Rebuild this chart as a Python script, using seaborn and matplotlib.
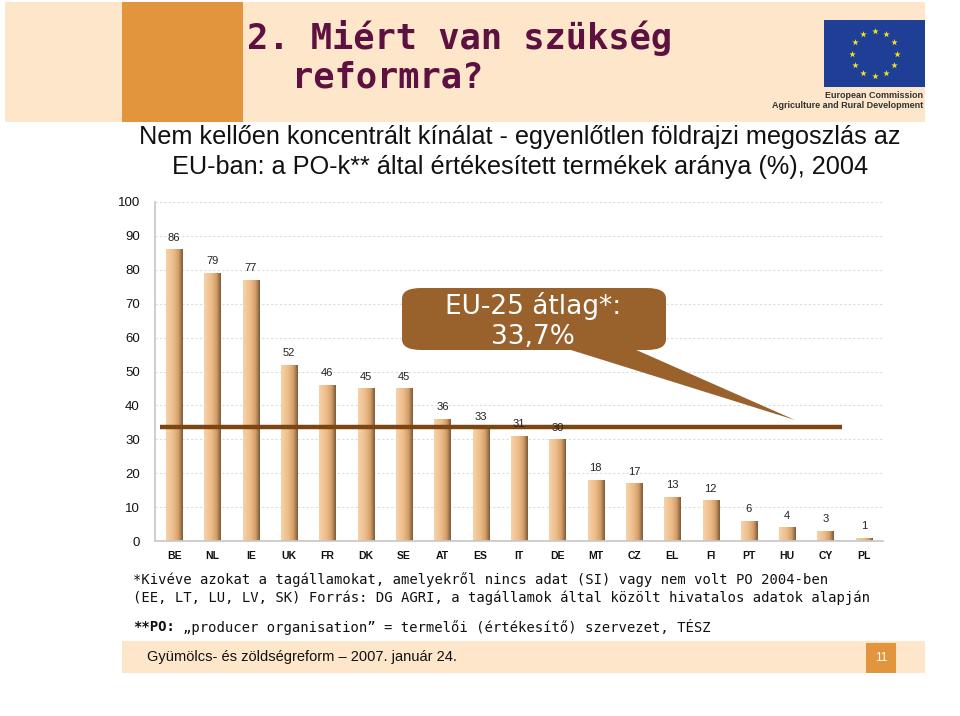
import numpy as np
import pandas as pd
import matplotlib
matplotlib.use('Agg')
import matplotlib.pyplot as plt
import seaborn as sns
from matplotlib.colors import LinearSegmentedColormap
from matplotlib.patches import Rectangle, FancyBboxPatch, Polygon

# Adatok
orszagok = ['BE', 'NL', 'IE', 'UK', 'FR', 'DK', 'SE', 'AT', 'ES', 'IT',
            'DE', 'MT', 'CZ', 'EL', 'FI', 'PT', 'HU', 'CY', 'PL']
aranyok = [86, 79, 77, 52, 46, 45, 45, 36, 33, 31, 30, 18, 17, 13, 12, 6, 4, 3, 1]
eu_atlag = 33.7
y_tickek = list(range(0, 101, 10))

W, H = 960, 716
def px(x, y):
    return x / W, 1 - y / H

sns.set_theme(style="white")
plt.rcParams['font.family'] = ['Liberation Sans', 'DejaVu Sans']

fig = plt.figure(figsize=(9.6, 7.16), dpi=100)
fig.patch.set_facecolor('white')

peach = '#FDE6C9'
narancs = '#E2953D'
bordo = '#5E1040'

# Fejléc
fig.patches.append(Rectangle(px(5, 122), 920 / W, 120 / H, transform=fig.transFigure,
                             facecolor=peach, edgecolor='none', zorder=0))
fig.patches.append(Rectangle(px(122, 122), 121 / W, 120 / H, transform=fig.transFigure,
                             facecolor=narancs, edgecolor='none', zorder=1))
fig.text(*px(247, 38), '2. Miért van szükség', fontsize=25.5, fontweight='bold',
         family='DejaVu Sans Mono', color=bordo, ha='left', va='center')
fig.text(*px(292, 78), 'reformra?', fontsize=25.5, fontweight='bold',
         family='DejaVu Sans Mono', color=bordo, ha='left', va='center')

# EU logó
logo = fig.add_axes([824 / W, 1 - 87 / H, 101 / W, 67 / H], zorder=5)
logo.set_facecolor('#1F3F97')
logo.set_xlim(-1.5, 1.5)
logo.set_ylim(-1, 1)
szog = np.linspace(0, 2 * np.pi, 12, endpoint=False)
logo.scatter(0.68 * np.cos(szog), 0.68 * np.sin(szog), marker='*', s=24, color='#F5E51B', linewidths=0)
logo.set_xticks([])
logo.set_yticks([])
for s in logo.spines.values():
    s.set_visible(False)
fig.text(*px(923, 96), 'European Commission', fontsize=6.5, fontweight='bold',
         color='#333333', ha='right', va='center')
fig.text(*px(923, 106), 'Agriculture and Rural Development', fontsize=6.5, fontweight='bold',
         color='#333333', ha='right', va='center')

# Alcím
fig.text(*px(520, 137), 'Nem kellően koncentrált kínálat - egyenlőtlen földrajzi megoszlás az',
         fontsize=18.2, color='#111111', ha='center', va='center')
fig.text(*px(520, 167), 'EU-ban: a PO-k** által értékesített termékek aránya (%), 2004',
         fontsize=18.2, color='#111111', ha='center', va='center')

# Diagram
ax = fig.add_axes([155 / W, 1 - 541 / H, 728 / W, 339 / H])
df = pd.DataFrame({'orszag': orszagok, 'arany': aranyok})
sns.barplot(data=df, x='orszag', y='arany', ax=ax, width=0.42, color='#E6B07A')

cmap = LinearSegmentedColormap.from_list('oszlop', [
    (0.0, '#F6D2A8'), (0.45, '#ECBC88'), (0.75, '#D29E68'), (1.0, '#7A5838')])
grad = np.linspace(0, 1, 64).reshape(1, -1)
for bar in ax.patches:
    x0, y0 = bar.get_x(), bar.get_y()
    w, h = bar.get_width(), bar.get_height()
    im = ax.imshow(grad, extent=[x0, x0 + w, y0, y0 + h], aspect='auto',
                   cmap=cmap, zorder=2, interpolation='bicubic')
    im.set_clip_path(bar)
    bar.set_facecolor('none')
    bar.set_edgecolor('none')
    ax.text(x0 + w / 2, h + 2.0, f'{h:.0f}', ha='center', va='bottom',
            fontsize=8, color='#222222', zorder=4)

ax.set_xlim(-0.5, len(orszagok) - 0.5)
ax.set_ylim(0, 100)
ax.set_yticks(y_tickek)
ax.set_yticklabels([str(t) for t in y_tickek], fontsize=9.5, color='#111111')
ax.tick_params(axis='y', length=4, color='#BBBBBB', pad=7)
ax.set_xticks(range(len(orszagok)))
ax.set_xticklabels(orszagok, fontsize=7.5, fontweight='bold', color='#111111')
ax.set_xticks(np.arange(-0.5, len(orszagok), 1), minor=True)
ax.tick_params(axis='x', which='major', length=0, pad=7)
ax.tick_params(axis='x', which='minor', length=3, color='#BBBBBB')
ax.set_xlabel('')
ax.set_ylabel('')
for t in y_tickek[1:]:
    ax.axhline(t, color='#DDDDDD', lw=0.8, ls=(0, (2, 2)), zorder=1)
for nev in ['top', 'right']:
    ax.spines[nev].set_visible(False)
ax.spines['left'].set_color('#C8C8C8')
ax.spines['bottom'].set_color('#C8C8C8')
ax.set_facecolor('none')

# EU-25 átlag vonal
ax.hlines(eu_atlag, -0.37, 17.44, color='#7B4612', lw=3.2, zorder=3)

# Szövegbuborék
barna = '#99622C'
fig.patches.append(Polygon([px(555, 345), px(625, 345), px(795, 420)], closed=True,
                           transform=fig.transFigure, facecolor=barna, edgecolor='none', zorder=5))
fig.patches.append(FancyBboxPatch(px(402, 350), 264 / W, 62 / H,
                                  boxstyle='round,pad=0,rounding_size=0.02',
                                  transform=fig.transFigure, facecolor=barna,
                                  edgecolor='none', zorder=5, mutation_aspect=H / W))
fig.text(*px(533, 306), 'EU-25 átlag*:', fontsize=19, color='white', family='DejaVu Sans',
         ha='center', va='center', zorder=6)
fig.text(*px(533, 337), f'{eu_atlag:.1f}%'.replace('.', ','), fontsize=19, color='white',
         family='DejaVu Sans', ha='center', va='center', zorder=6)

# Lábjegyzetek
mono = 'DejaVu Sans Mono'
fig.text(*px(133, 580), '*Kivéve azokat a tagállamokat, amelyekről nincs adat (SI) vagy nem volt PO 2004-ben',
         fontsize=10, family=mono, color='#111111', ha='left', va='center')
fig.text(*px(133, 598), '(EE, LT, LU, LV, SK) Forrás: DG AGRI, a tagállamok által közölt hivatalos adatok alapján',
         fontsize=10, family=mono, color='#111111', ha='left', va='center')
fig.text(*px(133, 627), '**PO:', fontsize=10, family=mono, fontweight='bold',
         color='#111111', ha='left', va='center')
fig.text(*px(133 + 6 * 8.3, 627), '„producer organisation” = termelői (értékesítő) szervezet, TÉSZ',
         fontsize=10, family=mono, color='#111111', ha='left', va='center')

# Lábléc
fig.patches.append(Rectangle(px(122, 673), 803 / W, 32 / H, transform=fig.transFigure,
                             facecolor=peach, edgecolor='none', zorder=0))
fig.patches.append(Rectangle(px(866, 673), 30 / W, 30 / H, transform=fig.transFigure,
                             facecolor=narancs, edgecolor='none', zorder=1))
fig.text(*px(147, 657), 'Gyümölcs- és zöldségreform – 2007. január 24.', fontsize=10.5,
         color='#111111', ha='left', va='center')
fig.text(*px(881, 658), '11', fontsize=8.5, color='white', ha='center', va='center')

fig.savefig('out.png', dpi=100)
